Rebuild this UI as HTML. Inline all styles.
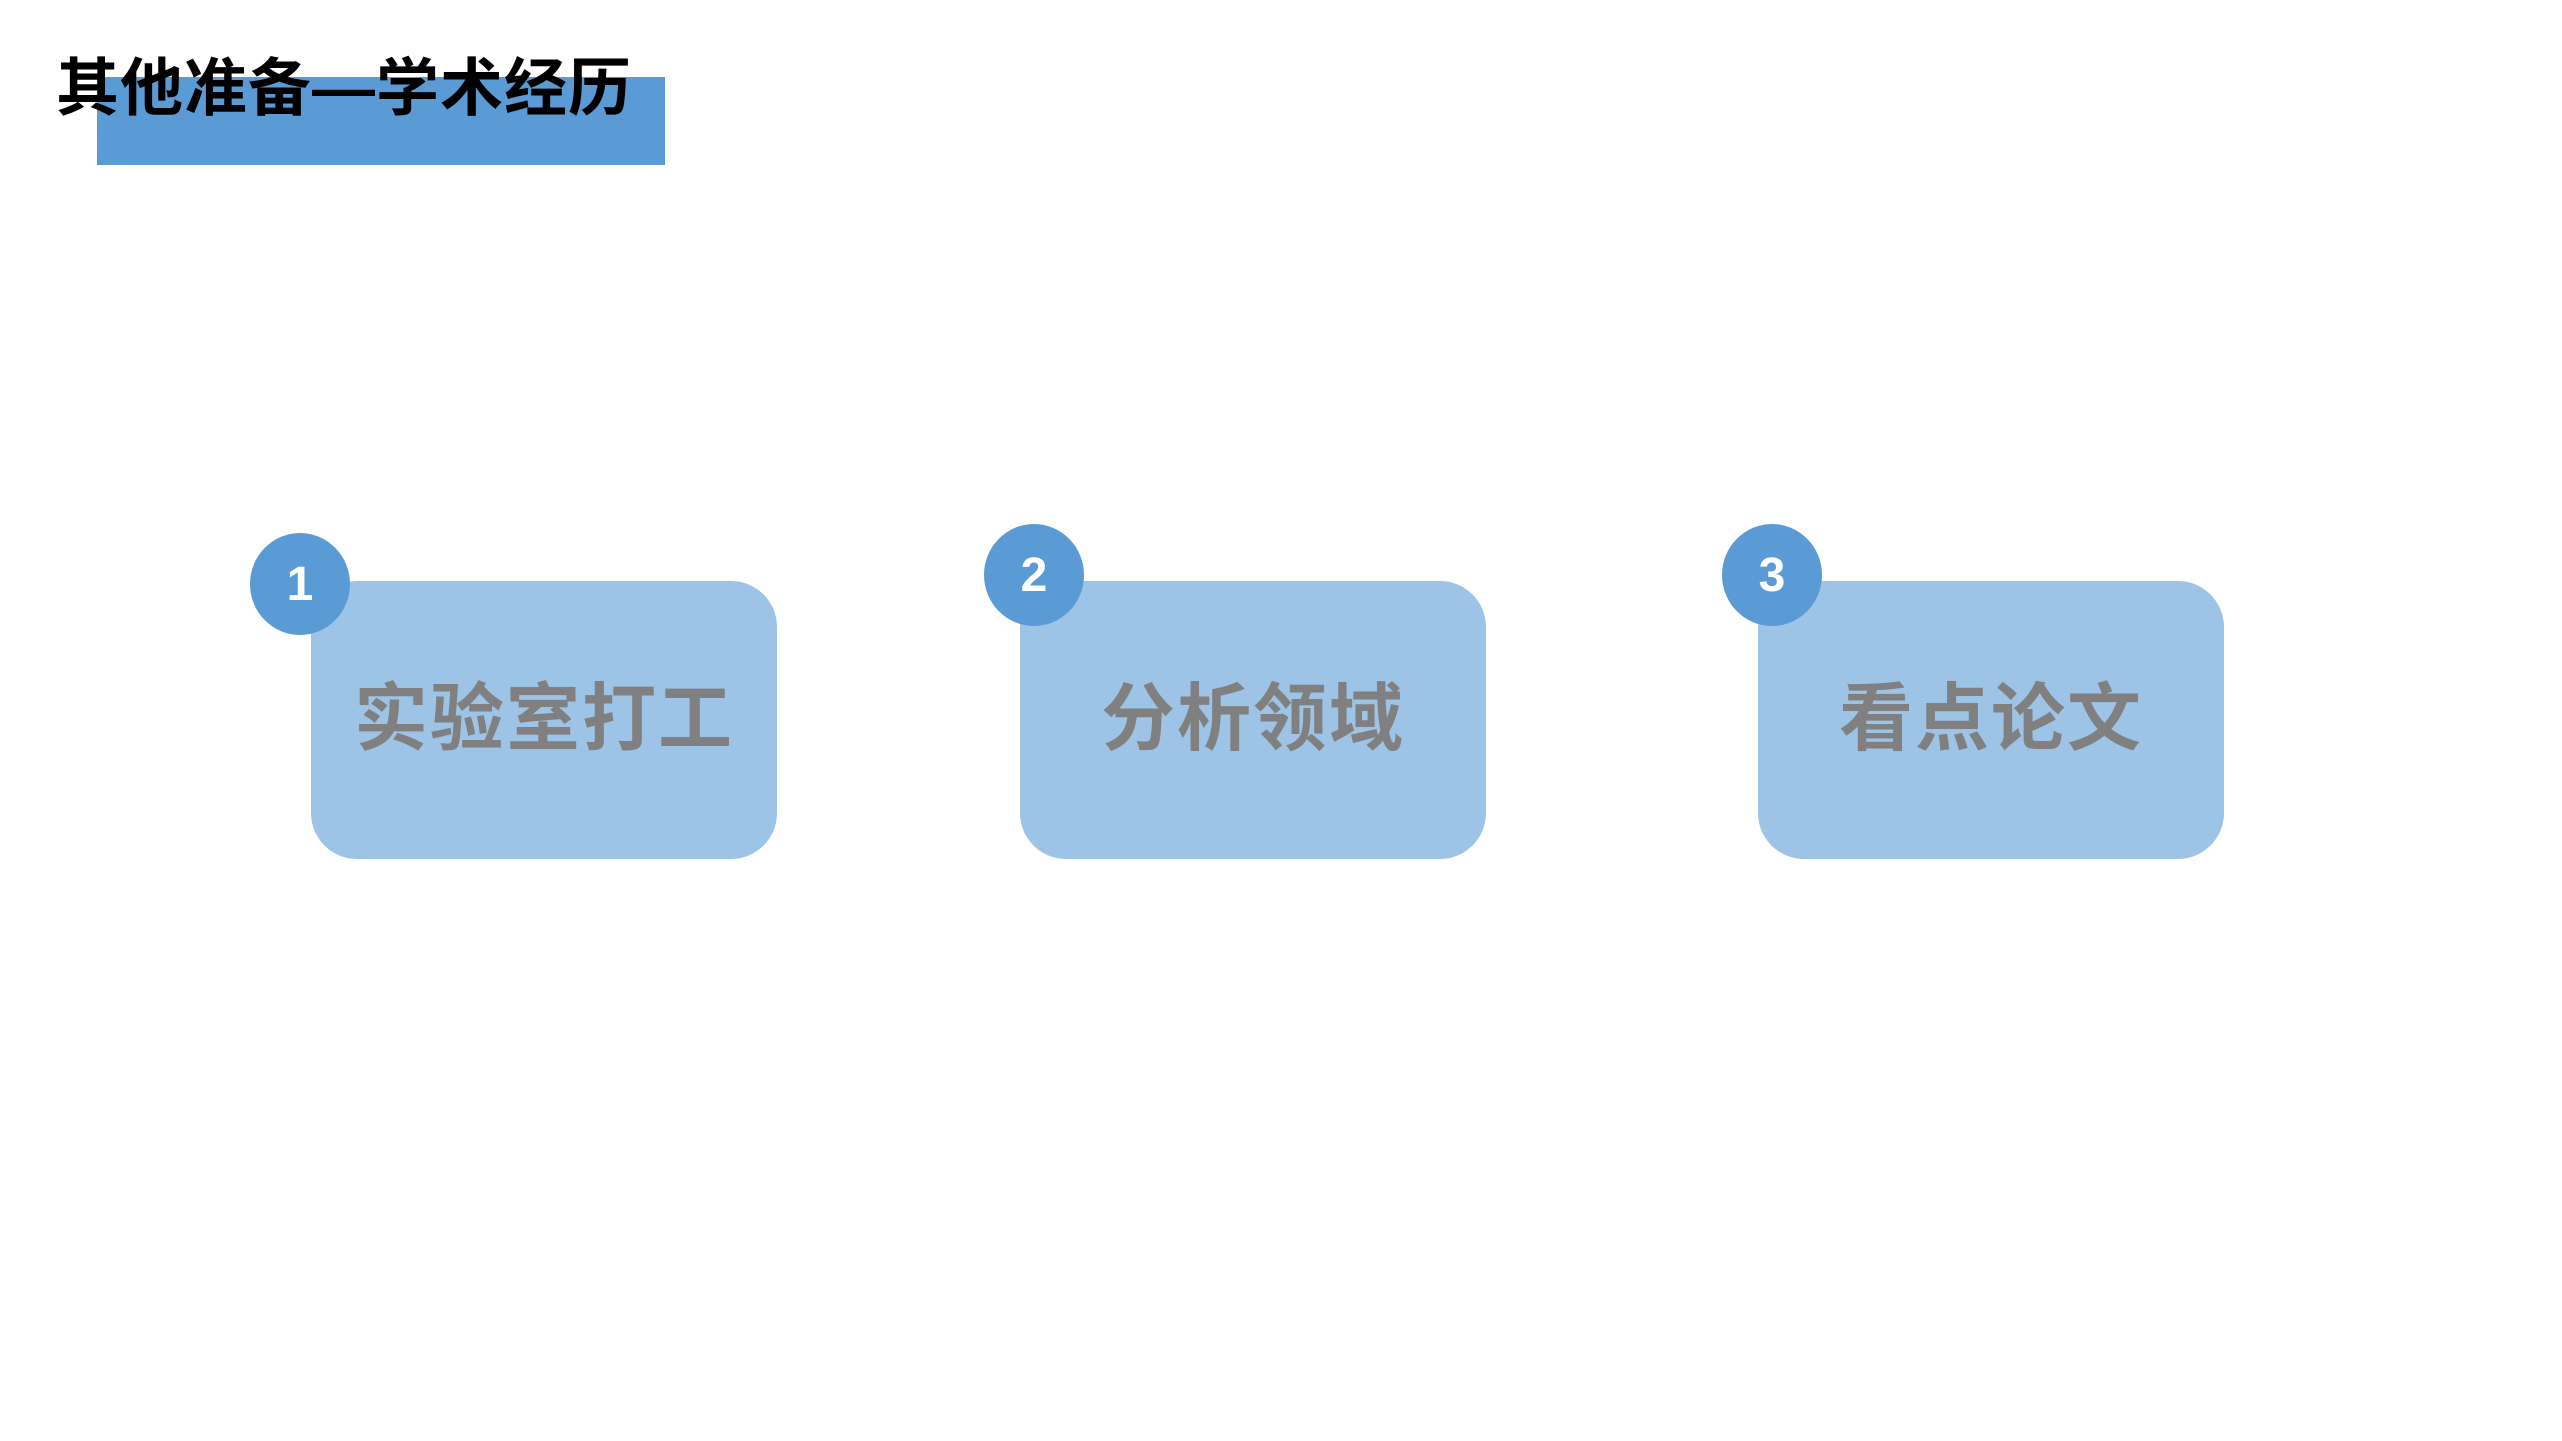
<!DOCTYPE html>
<html><head><meta charset="utf-8"><style>
body{margin:0;width:2562px;height:1441px;background:#fff;position:relative;overflow:hidden;font-family:"Liberation Sans","Noto Sans CJK SC",sans-serif}
.a{position:absolute}
.bar{left:97px;top:77px;width:568px;height:88px;background:#5b9bd5}
.title{left:56px;top:52px;font-size:63px;font-weight:bold;color:#000;line-height:75px;white-space:nowrap;letter-spacing:1px}
.box{background:#9dc3e6;border-radius:46px;width:466px;height:278px;top:581px;display:flex;align-items:center;justify-content:center;color:#808080;font-size:74px;font-weight:bold;line-height:1;padding-bottom:2px;box-sizing:border-box;letter-spacing:2px}
.c{width:100px;height:102px;border-radius:50%;background:#5b9bd5;color:#fff;font-size:48px;font-weight:bold;display:flex;align-items:center;justify-content:center}
</style></head><body>
<div class="a bar"></div>
<div class="a title">其他准备—学术经历</div>
<div class="a box" style="left:311px">实验室打工</div>
<div class="a box" style="left:1020px">分析领域</div>
<div class="a box" style="left:1758px">看点论文</div>
<div class="a c" style="left:250px;top:533px">1</div>
<div class="a c" style="left:984px;top:524px">2</div>
<div class="a c" style="left:1722px;top:524px">3</div>
</body></html>
